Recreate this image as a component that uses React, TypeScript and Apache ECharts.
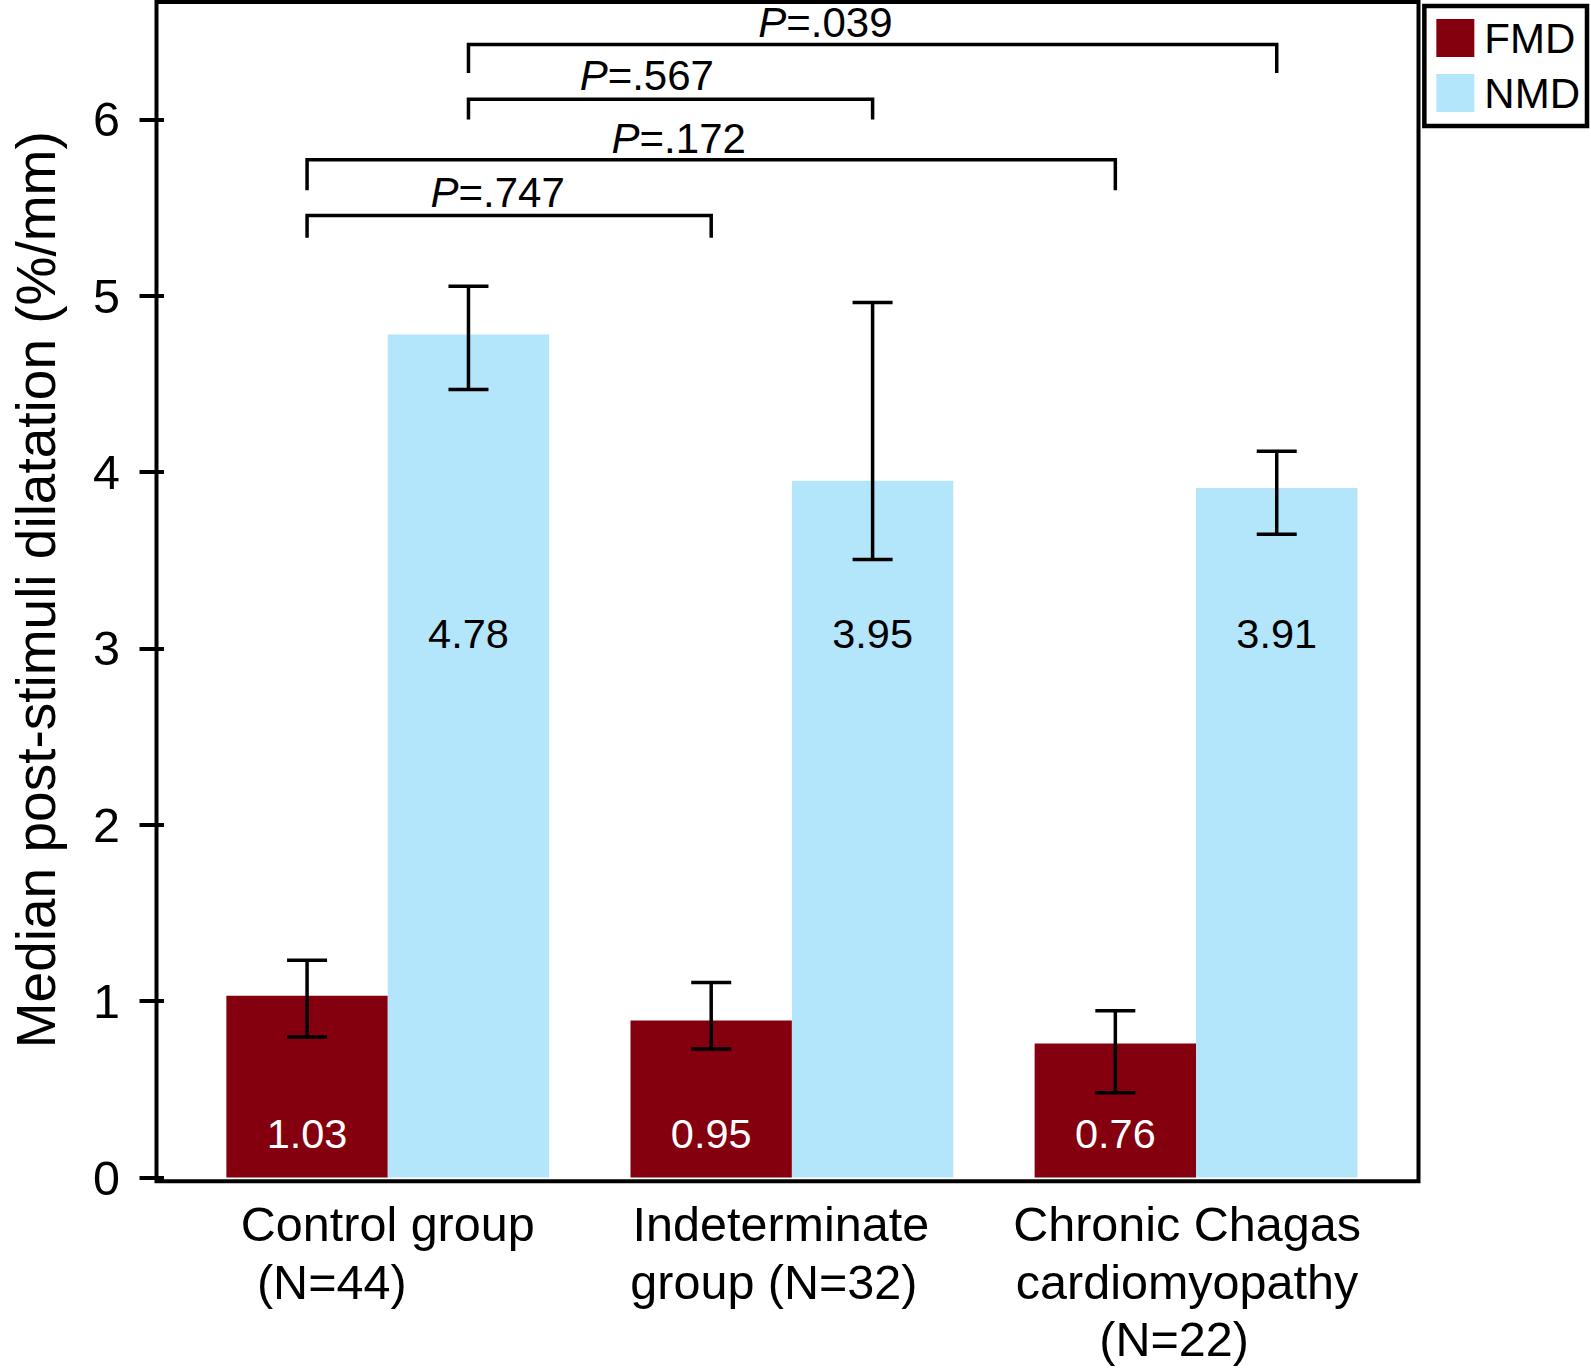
import React, { useEffect, useRef } from "react";
import * as echarts from "echarts";

// ---------- data ----------
const categories = [
  "Control group\n(N=44)",
  "Indeterminate\ngroup (N=32)",
  "Chronic Chagas\ncardiomyopathy\n(N=22)",
];
const seriesNames = ["FMD", "NMD"];
const fmdValues = [1.03, 0.89, 0.76];
const nmdValues = [4.78, 3.95, 3.91];
const fmdLabels = ["1.03", "0.95", "0.76"];
const nmdLabels = ["4.78", "3.95", "3.91"];
const fmdErrLow = [0.797, 0.728, 0.481];
const fmdErrHigh = [1.232, 1.106, 0.946];
const nmdErrLow = [4.468, 3.504, 3.647];
const nmdErrHigh = [5.053, 4.961, 4.118];
const yTicks = [0, 1, 2, 3, 4, 5, 6];
const yMax = 6.665;
const yTitle = "Median post-stimuli dilatation (%/mm)";

// significance brackets
const pPrefix = ["P", "P", "P", "P"];
const pValues = ["=.039", "=.567", "=.172", "=.747"];
const bracketFromCat = [0, 0, 0, 0];
const bracketToCat = [2, 1, 2, 1];
const bracketSeries = [1, 1, 0, 0]; // 0 = FMD, 1 = NMD
const bracketTop = [6.424, 6.114, 5.77, 5.455];
const bracketFoot = [6.263, 5.999, 5.598, 5.328];
const pTextCat = [1.083, 0.641, 0.72, 0.272];
const pTextY = [6.55, 6.246, 5.89, 5.586];

// ---------- style / layout ----------
const FONT = "'Liberation Sans', Arial, Helvetica, sans-serif";
const FMD_COLOR = "#85000E";
const NMD_COLOR = "#B3E5FB";
const BAR_W = 161.4;
const CAP_W = 40;
const LW = 3.5;
const FRAME_LW = 4;
const FRAME_X = 156.5;
const GRID_LEFT = 178.2;
const LINE_SHIFT = [
  [0, 56],
  [11, 18],
  [9, 9, 22],
];

export default function App() {
  const ref = useRef<HTMLDivElement>(null);

  useEffect(() => {
    if (!ref.current) return;
    const chart = echarts.init(ref.current, null, { renderer: "svg" });

    const rich: Record<string, any> = {};
    LINE_SHIFT.flat().forEach((s) => {
      rich["s" + s] = {
        fontSize: 48.5,
        lineHeight: 57.5,
        fontFamily: FONT,
        color: "#000",
        padding: [0, 2 * s, 0, 0],
      };
    });

    const errData: number[][] = [];
    categories.forEach((_, i) => {
      errData.push([i, fmdErrLow[i], fmdErrHigh[i], 0]);
      errData.push([i, nmdErrLow[i], nmdErrHigh[i], 1]);
    });

    const bracketData = pValues.map((_, k) => [
      bracketFromCat[k],
      bracketToCat[k],
      bracketSeries[k],
      bracketTop[k],
      bracketFoot[k],
      pTextCat[k],
      pTextY[k],
      k,
    ]);

    const option: any = {
      animation: false,
      backgroundColor: "#fff",
      textStyle: { fontFamily: FONT },
      grid: { left: GRID_LEFT, right: 192.9, top: 2, bottom: 186.7, containLabel: false },
      legend: {
        data: seriesNames,
        orient: "vertical",
        right: 4,
        top: 6,
        icon: "rect",
        itemWidth: 38,
        itemHeight: 38,
        itemGap: 13,
        padding: [11, 7, 12, 12],
        borderColor: "#000",
        borderWidth: 4.5,
        textStyle: { fontSize: 42, color: "#000", fontFamily: FONT, padding: [0, 0, 0, 5] },
      },
      xAxis: {
        type: "category",
        data: categories,
        axisLine: { show: false },
        axisTick: { show: false },
        axisLabel: {
          interval: 0,
          margin: 18,
          fontSize: 48.5,
          fontFamily: FONT,
          color: "#000",
          lineHeight: 57.5,
          formatter: (v: string, idx: number) =>
            v
              .split("\n")
              .map((line, j) => `{s${LINE_SHIFT[idx][j]}|${line}}`)
              .join("\n"),
          rich,
        },
      },
      yAxis: {
        type: "value",
        min: 0,
        max: yMax,
        interval: 1,
        offset: GRID_LEFT - FRAME_X,
        axisLine: { show: false },
        axisTick: {
          show: true,
          length: 24.5,
          customValues: yTicks,
          lineStyle: { color: "#000", width: FRAME_LW },
        },
        axisLabel: {
          customValues: yTicks,
          fontSize: 48.5,
          fontFamily: FONT,
          color: "#000",
          margin: 44,
        },
        splitLine: { show: false },
        name: yTitle,
        nameLocation: "middle",
        nameGap: 101,
        nameTextStyle: { fontSize: 55, color: "#000", fontFamily: FONT },
      },
      series: [
        {
          name: "FMD",
          type: "bar",
          data: fmdValues,
          barWidth: BAR_W,
          barGap: "0%",
          itemStyle: { color: FMD_COLOR },
          label: {
            show: true,
            position: "insideBottom",
            distance: 23,
            fontSize: 41.5,
            fontFamily: FONT,
            color: "#fff",
            formatter: (p: any) => fmdLabels[p.dataIndex],
          },
          z: 2,
        },
        {
          name: "NMD",
          type: "bar",
          data: nmdValues,
          barWidth: BAR_W,
          barGap: "0%",
          itemStyle: { color: NMD_COLOR },
          label: {
            show: true,
            position: "insideBottom",
            distance: 523.5,
            fontSize: 41.5,
            fontFamily: FONT,
            color: "#000",
            formatter: (p: any) => nmdLabels[p.dataIndex],
          },
          z: 2,
        },
        {
          name: "errors",
          type: "custom",
          data: errData,
          z: 5,
          renderItem: (params: any, api: any) => {
            const cat = api.value(0);
            const lo = api.value(1);
            const hi = api.value(2);
            const s = api.value(3);
            const dx = (s === 0 ? -1 : 1) * (BAR_W / 2);
            const pLo = api.coord([cat, lo]);
            const pHi = api.coord([cat, hi]);
            const x = pLo[0] + dx;
            const h = CAP_W / 2;
            const st = { stroke: "#000", lineWidth: LW };
            return {
              type: "group",
              children: [
                { type: "line", shape: { x1: x, y1: pLo[1], x2: x, y2: pHi[1] }, style: st },
                { type: "line", shape: { x1: x - h, y1: pLo[1], x2: x + h, y2: pLo[1] }, style: st },
                { type: "line", shape: { x1: x - h, y1: pHi[1], x2: x + h, y2: pHi[1] }, style: st },
              ],
            };
          },
        },
        {
          name: "brackets",
          type: "custom",
          data: bracketData,
          z: 5,
          renderItem: (params: any, api: any) => {
            const c1 = api.value(0);
            const c2 = api.value(1);
            const s = api.value(2);
            const top = api.value(3);
            const foot = api.value(4);
            const tc = api.value(5);
            const ty = api.value(6);
            const k = api.value(7);
            const dx = (s === 0 ? -1 : 1) * (BAR_W / 2);
            const band = api.size([1, 0])[0];
            const a = api.coord([c1, top]);
            const b = api.coord([c2, foot]);
            const x1 = a[0] + dx;
            const x2 = b[0] + dx;
            const base = api.coord([0, ty]);
            const tx = base[0] + tc * band;
            return {
              type: "group",
              children: [
                {
                  type: "polyline",
                  shape: {
                    points: [
                      [x1, b[1]],
                      [x1, a[1]],
                      [x2, a[1]],
                      [x2, b[1]],
                    ],
                  },
                  style: { stroke: "#000", lineWidth: LW, fill: "none", lineJoin: "miter" },
                },
                {
                  type: "text",
                  style: {
                    x: tx,
                    y: base[1],
                    text: `{i|${pPrefix[k]}}{n|${pValues[k]}}`,
                    align: "center",
                    verticalAlign: "middle",
                    fontSize: 42,
                    fontFamily: FONT,
                    fill: "#000",
                    rich: {
                      i: { fontStyle: "italic", fontSize: 42, fontFamily: FONT, color: "#000" },
                      n: { fontSize: 42, fontFamily: FONT, color: "#000" },
                    },
                  },
                },
              ],
            };
          },
        },
      ],
      graphic: [
        {
          type: "rect",
          z: 100,
          silent: true,
          shape: { x: FRAME_X, y: 2, width: 1418.5 - FRAME_X, height: 1179.3 },
          style: { fill: "none", stroke: "#000", lineWidth: FRAME_LW },
        },
      ],
    };

    chart.setOption(option);
    return () => chart.dispose();
  }, []);

  return (
    <div
      ref={ref}
      style={{ position: "absolute", left: 0, top: 0, width: 1591, height: 1368, background: "#fff" }}
    />
  );
}
